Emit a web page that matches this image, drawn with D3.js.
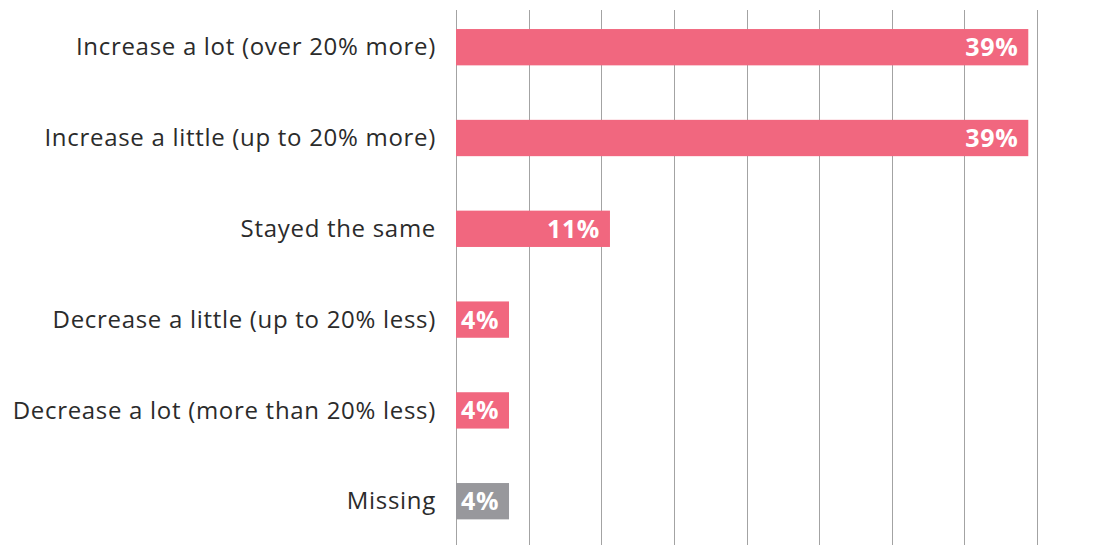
<!DOCTYPE html>
<html>
<head>
<meta charset="utf-8">
<script src="https://cdn.jsdelivr.net/npm/d3@7"></script>
<style>
  html, body { margin: 0; padding: 0; background: #fff; }
  svg { display: block; }
</style>
</head>
<body>
<div id="container"></div>
<script>
// data
let categories = [
  "Increase a lot (over 20% more)",
  "Increase a little (up to 20% more)",
  "Stayed the same",
  "Decrease a little (up to 20% less)",
  "Decrease a lot (more than 20% less)",
  "Missing"
];
let values = [39.4, 39.4, 10.6, 3.65, 3.65, 3.65];
let valueLabels = ["39%", "39%", "11%", "4%", "4%", "4%"];
let gridTicks = [0, 5, 10, 15, 20, 25, 30, 35, 40];

let width = 1106,
    height = 545;

let svg = d3.select('#container').append("svg")
    .attr("width", width)
    .attr("height", height);

let xScale = d3.scaleLinear()
    .domain([0, 40])
    .range([456, 1037]);

let yScale = d3.scaleBand()
    .domain(categories)
    .range([1.8, 546.6])
    .paddingInner(0.6)
    .paddingOuter(0.3);

let color = function(name){
  return name == "Missing" ? "#98989c" : "#f1677f";
};

// vertical grid lines
svg.append("g")
    .selectAll("line")
    .data(gridTicks)
    .enter().append("line")
      .attr("x1", d => Math.round(xScale(d)) + 0.5)
      .attr("x2", d => Math.round(xScale(d)) + 0.5)
      .attr("y1", 10)
      .attr("y2", height)
      .attr("stroke", "#a3a3a3")
      .attr("stroke-width", 1);

let rows = svg.selectAll(".row")
    .data(categories.map((c, i) => ({name: c, value: values[i], label: valueLabels[i]})))
    .enter().append("g")
      .attr("class", "row");

rows.append("rect")
    .attr("x", xScale(0))
    .attr("y", d => yScale(d.name))
    .attr("width", d => xScale(d.value) - xScale(0))
    .attr("height", yScale.bandwidth())
    .attr("fill", d => color(d.name));

// category names on the left
rows.append("text")
    .attr("x", 436)
    .attr("y", d => yScale(d.name) + yScale.bandwidth() / 2)
    .attr("dy", "0.34em")
    .attr("text-anchor", "end")
    .style("font-family", "'Open Sans', sans-serif")
    .style("font-size", "24px")
    .style("letter-spacing", "0.7px")
    .style("fill", "#2b2b2b")
    .text(d => d.name);

// value labels inside the bars
rows.append("text")
    .attr("x", d => xScale(d.value) - 10)
    .attr("y", d => yScale(d.name) + yScale.bandwidth() / 2)
    .attr("dy", "0.36em")
    .attr("text-anchor", "end")
    .style("font-family", "'Open Sans', sans-serif")
    .style("font-weight", "bold")
    .style("font-size", "25px")
    .style("letter-spacing", "0.6px")
    .style("fill", "#fff")
    .text(d => d.label);
</script>
</body>
</html>
